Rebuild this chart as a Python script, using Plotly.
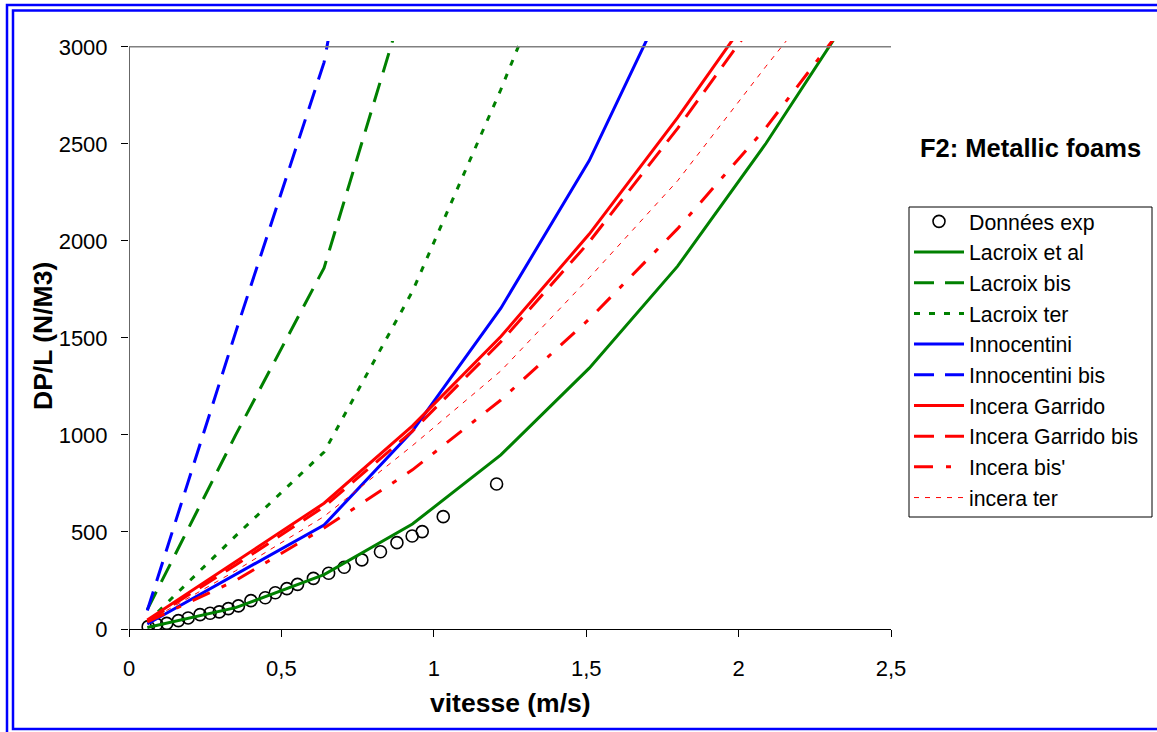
import plotly.graph_objects as go

# ---------------- data ----------------
v_exp = [0.063, 0.091, 0.124, 0.162, 0.194, 0.233, 0.266, 0.296, 0.326, 0.359, 0.400, 0.447,
         0.480, 0.518, 0.553, 0.605, 0.655, 0.706, 0.764, 0.825, 0.879, 0.929, 0.962, 1.031, 1.206]
dp_exp = [12, 24, 29, 43, 57, 74, 81, 88, 105, 119, 146, 161,
          187, 208, 230, 261, 287, 318, 356, 398, 445, 479, 502, 579, 747]

v_model = [0.06, 0.35, 0.64, 0.93, 1.22, 1.51, 1.80, 2.09, 2.38]

lacroix = [8, 110, 280, 541, 897, 1344, 1870, 2503, 3200]
lacroix_bis = [100, 1000, 1861, 3370]
lacroix_ter = [35, 480, 912, 1740, 2780, 3900]
innocentini = [26, 283, 536, 1020, 1653, 2414, 3370]
innocentini_bis = [95, 1530, 2920, 5400]
incera = [46, 347, 648, 1047, 1507, 2035, 2635, 3280]
incera_bis = [40, 330, 630, 1020, 1480, 1995, 2580, 3210]
incera_bisp = [37, 250, 520, 820, 1180, 1597, 2063, 2584, 3180]
incera_ter = [38, 300, 580, 945, 1330, 1810, 2310, 2900, 3470]

x_tickvals = [0, 0.5, 1, 1.5, 2, 2.5]
x_ticktext = ["0", "0,5", "1", "1,5", "2", "2,5"]
y_tickvals = [0, 500, 1000, 1500, 2000, 2500, 3000]

FONT = "Liberation Sans, Arial, sans-serif"
GREEN = "#008000"
BLUE = "#0000FF"
RED = "#FF0000"

fig = go.Figure()

fig.add_trace(go.Scatter(x=v_exp, y=dp_exp, mode="markers", name="Données exp",
                         marker=dict(symbol="circle-open", size=12, color="black",
                                     line=dict(width=1.6, color="black"))))

def add_line(vals, name, color, dash, width=3):
    fig.add_trace(go.Scatter(x=v_model[:len(vals)], y=vals, mode="lines", name=name,
                             line=dict(color=color, dash=dash, width=width)))

add_line(lacroix, "Lacroix et al", GREEN, "solid")
add_line(lacroix_bis, "Lacroix bis", GREEN, "20px,11px")
add_line(lacroix_ter, "Lacroix ter", GREEN, "6px,9px")
add_line(innocentini, "Innocentini", BLUE, "solid")
add_line(innocentini_bis, "Innocentini bis", BLUE, "20px,11px")
add_line(incera, "Incera Garrido", RED, "solid")
add_line(incera_bis, "Incera Garrido bis", RED, "20px,11px")
add_line(incera_bisp, "Incera bis'", RED, "19px,13px,5px,13px")
add_line(incera_ter, "incera ter", RED, "5px,6px", width=1)

L, R, T, B = 129, 266, 41, 103
W, H = 1157, 732
PW, PH = W - L - R, H - T - B

def xp(px):
    return (px - L) / PW

def yp(py):
    return (H - B - py) / PH

shapes = [
    # y axis line up to 3000
    dict(type="line", xref="x", yref="y", x0=0, x1=0, y0=0, y1=3000,
         line=dict(color="black", width=1.2)),
    # top gridline at 3000
    dict(type="line", xref="x", yref="y", x0=0, x1=2.5, y0=3000, y1=3000,
         line=dict(color="#808080", width=1.5)),
    # legend box
    dict(type="rect", xref="paper", yref="paper", x0=xp(909), x1=xp(1152), y0=yp(517), y1=yp(207),
         line=dict(color="black", width=1)),
    # double blue frame
    dict(type="rect", xref="paper", yref="paper", x0=xp(7), x1=xp(1172), y0=yp(742), y1=yp(5),
         line=dict(color=BLUE, width=2.5)),
    dict(type="rect", xref="paper", yref="paper", x0=xp(13), x1=xp(1166), y0=yp(729), y1=yp(10.5),
         line=dict(color=BLUE, width=2.5)),
]

annotations = [
    dict(text="<b>F2: Metallic foams</b>", xref="paper", yref="paper", x=xp(918), y=yp(148),
         xanchor="left", yanchor="middle", showarrow=False,
         font=dict(family=FONT, size=25.5, color="black")),
    dict(text="<b>DP/L (N/M3)</b>", xref="paper", yref="paper", x=xp(43), y=yp(336),
         xanchor="center", yanchor="middle", textangle=-90, showarrow=False,
         font=dict(family=FONT, size=26.5, color="black")),
    dict(text="<b>vitesse (m/s)</b>", xref="paper", yref="paper", x=xp(510), y=yp(703),
         xanchor="center", yanchor="middle", showarrow=False,
         font=dict(family=FONT, size=26.5, color="black")),
]

fig.update_layout(
    width=W, height=H,
    autosize=False,
    margin=dict(l=L, r=R, t=T, b=B, pad=0, autoexpand=False),
    paper_bgcolor="white", plot_bgcolor="white",
    font=dict(family=FONT, size=22, color="black"),
    showlegend=True,
    legend=dict(x=xp(909), y=yp(201), xanchor="left", yanchor="top",
                bgcolor="rgba(0,0,0,0)", borderwidth=0,
                font=dict(family=FONT, size=21.3, color="black"),
                itemwidth=50, tracegroupgap=0),
    xaxis=dict(range=[0, 2.5], tickvals=x_tickvals, ticktext=x_ticktext,
               showgrid=False, zeroline=False, showline=True, linecolor="black", linewidth=1.2,
               ticks="outside", ticklen=7, tickcolor="black", tickwidth=1.2,
               ticklabelstandoff=12, tickfont=dict(family=FONT, size=22, color="black")),
    yaxis=dict(range=[0, 3030], tickvals=y_tickvals,
               showgrid=False, zeroline=False, showline=False,
               ticks="outside", ticklen=7, tickcolor="black", tickwidth=1.2,
               ticklabelstandoff=9, tickfont=dict(family=FONT, size=22, color="black")),
    shapes=shapes,
    annotations=annotations,
)

fig.write_html("out.html")
